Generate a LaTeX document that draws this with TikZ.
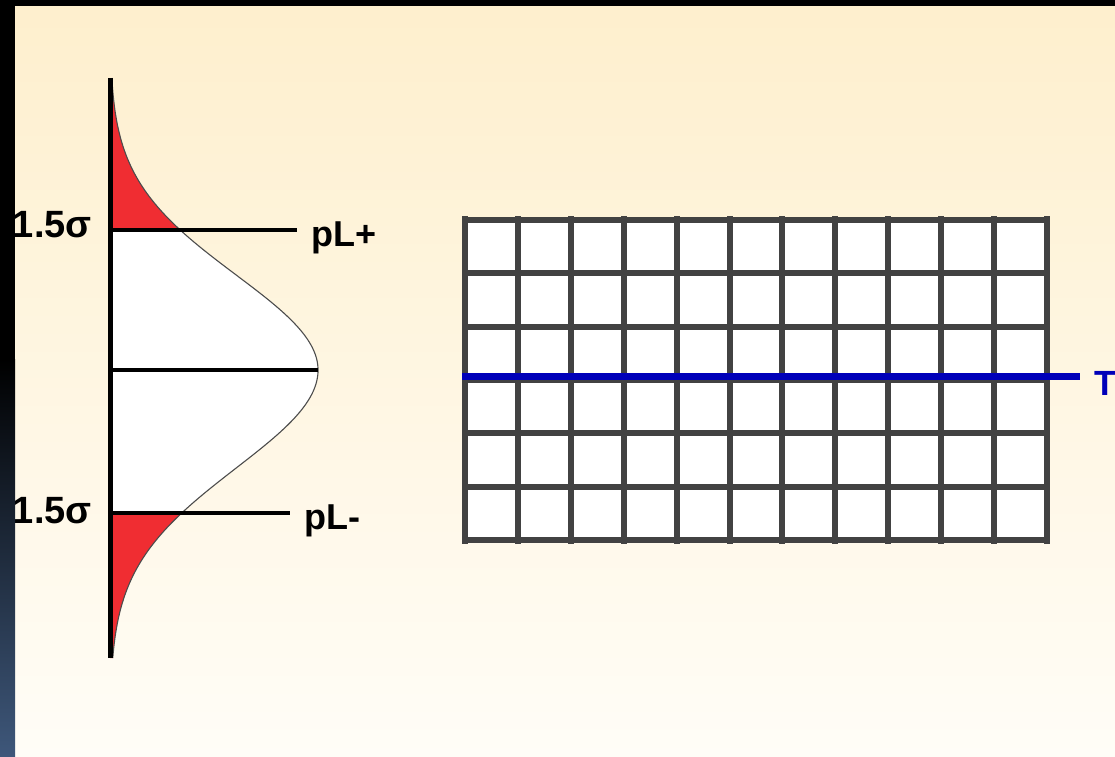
\documentclass[tikz,border=0pt]{standalone}
\usepackage{fontspec}
\setmainfont{Liberation Sans}
\definecolor{bgtop}{RGB}{254,239,205}
\definecolor{bgbot}{RGB}{255,253,247}
\definecolor{stripblue}{RGB}{62,87,122}
\definecolor{tailred}{RGB}{240,45,50}
\definecolor{gridgray}{RGB}{66,66,66}
\definecolor{lineblue}{RGB}{0,0,185}
\tikzset{
  axisline/.style={line width=5pt, black},
  levelline/.style={line width=4pt, black},
  curveline/.style={line width=1.1pt, black!70},
  gridline/.style={line width=6pt, gridgray},
  lbl/.style={inner sep=0pt, font=\bfseries\fontsize{36}{36}\selectfont},
  siglbl/.style={inner sep=0pt, font=\bfseries\fontsize{38}{38}\selectfont},
}
\begin{document}
\begin{tikzpicture}[x=1pt,y=-1pt]
\useasboundingbox (0,0) rectangle (1115,756);
% background
\shade[top color=bgtop, bottom color=bgbot] (15,0) rectangle (1115,756);
% labels sigma (left strip drawn over them later)
\node[siglbl, anchor=base east] (su) at (92,237) {1.5σ};
\node[siglbl, anchor=base east] (sl) at (92,523) {1.5σ};
% distribution fills
\fill[tailred] (110,78) -- plot[variable=\t, domain=78:230, samples=60] ({110+208*exp(-((\t-370)/95)^2/2)},{\t}) -- (110,230) -- cycle;
\fill[white] (110,230) -- plot[variable=\t, domain=230:370, samples=60] ({110+208*exp(-((\t-370)/95)^2/2)},{\t})
  -- plot[variable=\t, domain=370:513, samples=60] ({110+208*exp(-((\t-370)/98)^2/2)},{\t}) -- (110,513) -- cycle;
\fill[tailred] (110,513) -- plot[variable=\t, domain=513:658, samples=60] ({110+208*exp(-((\t-370)/98)^2/2)},{\t}) -- (110,658) -- cycle;
% curve
\draw[curveline] plot[variable=\t, domain=78:370, samples=120] ({110+208*exp(-((\t-370)/95)^2/2)},{\t})
  -- plot[variable=\t, domain=370:658, samples=120] ({110+208*exp(-((\t-370)/98)^2/2)},{\t});
% level lines
\coordinate (a1) at (110,230); \coordinate (e1) at (297,230);
\coordinate (a2) at (110,370); \coordinate (e2) at (318,370);
\coordinate (a3) at (110,513); \coordinate (e3) at (290,513);
\draw[levelline] (a1) -- (e1);
\draw[levelline] (a2) -- (e2);
\draw[levelline] (a3) -- (e3);
% axis
\coordinate (atop) at (110,78); \coordinate (abot) at (110,658);
\draw[axisline] (atop) -- (abot);
% pL labels
\node[lbl, anchor=base west] (plp) at (311,246) {pL+};
\node[lbl, anchor=base west] (plm) at (304,529) {pL-};
% grid
\fill[white] (465,220) rectangle (1047,540);
\foreach \i in {0,...,11} {
  \draw[gridline] ({465+\i*52.9},216) -- ({465+\i*52.9},544);
}
\foreach \j in {0,...,6} {
  \draw[gridline] (462,{220+\j*53.33}) -- (1050,{220+\j*53.33});
}
% blue line
\coordinate (bl) at (462,376); \coordinate (br) at (1080,376);
\draw[line width=7pt, lineblue] (bl) -- (br);
\node[inner sep=0pt, anchor=base west, text=lineblue, font=\bfseries\fontsize{35}{35}\selectfont] (tl) at (1094,395) {T};
% slide edges
\fill[black] (0,0) rectangle (15,360);
\shade[top color=black, bottom color=stripblue] (0,359) rectangle (15,756);
\fill[black] (0,0) rectangle (1115,6);
\end{tikzpicture}
\end{document}
